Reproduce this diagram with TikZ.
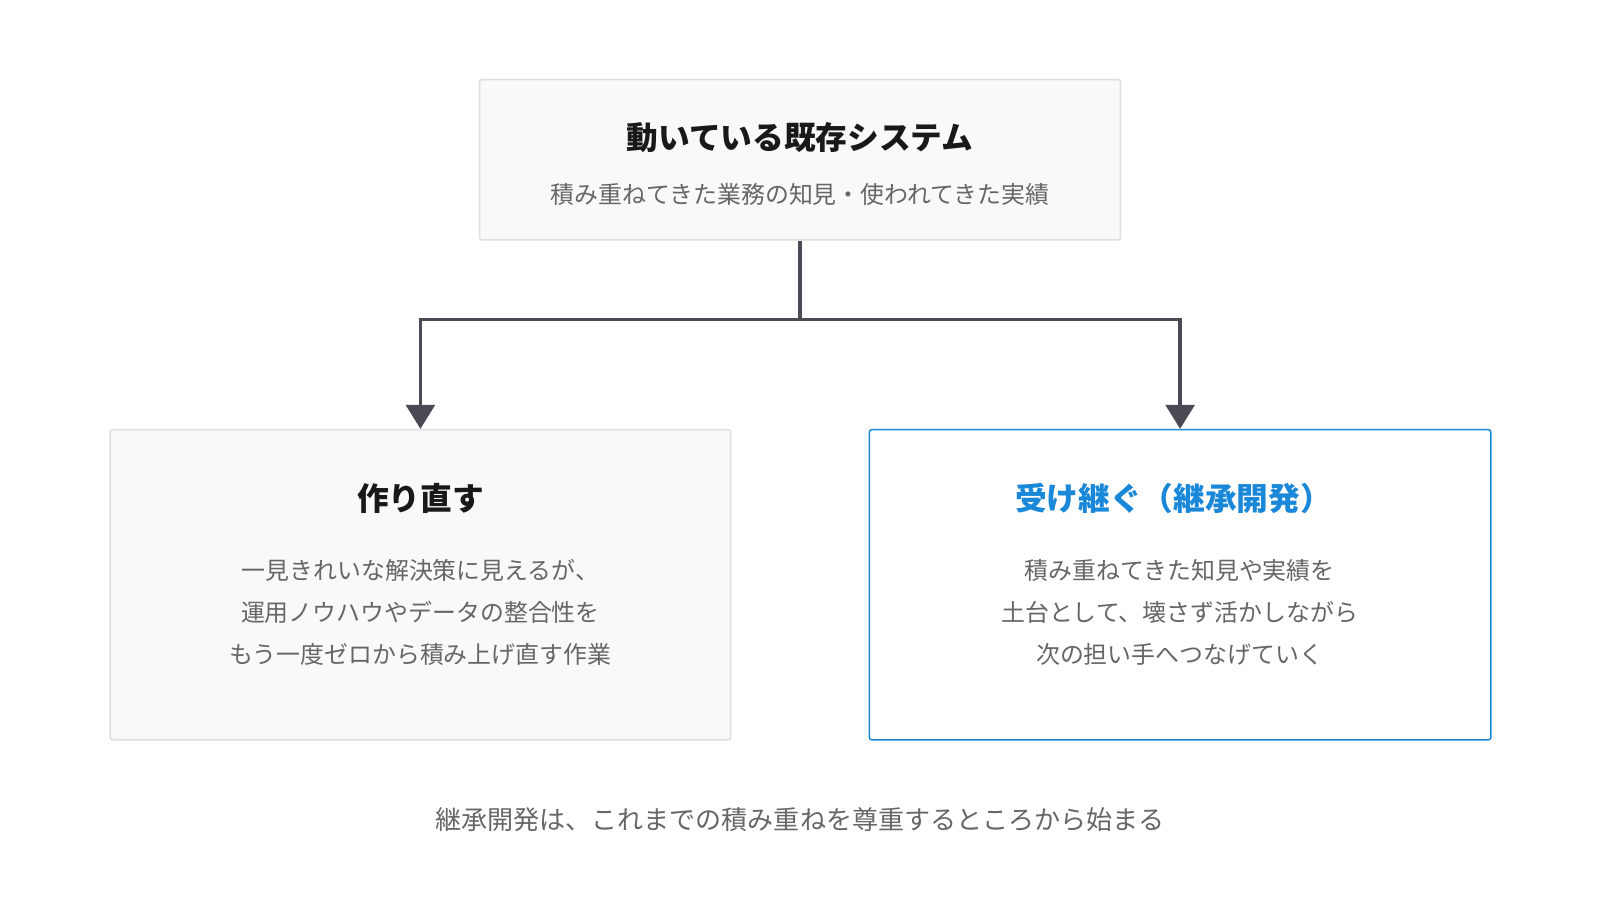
\documentclass[tikz,border=0pt]{standalone}
\usepackage{fontspec}
\setmainfont{Noto Sans CJK JP}
\usetikzlibrary{arrows.meta,positioning}
\definecolor{boxfill}{HTML}{F9F9F9}
\definecolor{boxline}{HTML}{DDDDDD}
\definecolor{inherit}{HTML}{1A88D8}
\definecolor{subtext}{HTML}{666666}
\definecolor{wire}{HTML}{4A4A55}
\tikzset{
	box/.style={draw=boxline, fill=boxfill, line width=1.2pt, rectangle, rounded corners=2pt, inner sep=0pt},
	title/.style={font=\fontsize{26.5}{32}\selectfont\bfseries, text=black!90},
	sub/.style={font=\fontsize{20}{35}\selectfont, text=subtext, align=center},
	link/.style={draw=wire, line width=2.8pt, -{Triangle[width=24pt,length=20pt]}}
}
\begin{document}
\begin{tikzpicture}[x=0.03cm, y=-0.03cm]
	\useasboundingbox (0,0) rectangle (1568,882);
	% boxes
	\node [box, minimum width=18.84cm, minimum height=4.71cm] (old) at (784,156.5) {};
	\node [box, minimum width=18.24cm, minimum height=9.12cm] (rebuild) at (412,573) {};
	\node [box, fill=white, draw=inherit, minimum width=18.27cm, minimum height=9.12cm] (keep) at (1156.5,573) {};
	% texts
	\node [title] (oldT) at (784,135) {動いている既存システム};
	\node [sub] (oldS) at (784,191) {積み重ねてきた業務の知見・使われてきた実績};
	\node [title] (rebuildT) at (412,488) {作り直す};
	\node [sub] (rebuildS) at (412,600) {一見きれいな解決策に見えるが、\\運用ノウハウやデータの整合性を\\もう一度ゼロから積み上げ直す作業};
	\node [title, text=inherit] (keepT) at (1150,488) {受け継ぐ（継承開発）};
	\node [sub] (keepS) at (1156,600) {積み重ねてきた知見や実績を\\土台として、壊さず活かしながら\\次の担い手へつなげていく};
	\node [sub, font=\fontsize{21.8}{30}\selectfont] (note) at (784,803) {継承開発は、これまでの積み重ねを尊重するところから始まる};
	% connectors
	\coordinate (split) at (784,313);
	\draw [draw=wire, line width=2.8pt] (old.south) -- (split);
	\draw [link] (split) -| (rebuild.north);
	\draw [link] (split) -| (keep.north);
\end{tikzpicture}
\end{document}
